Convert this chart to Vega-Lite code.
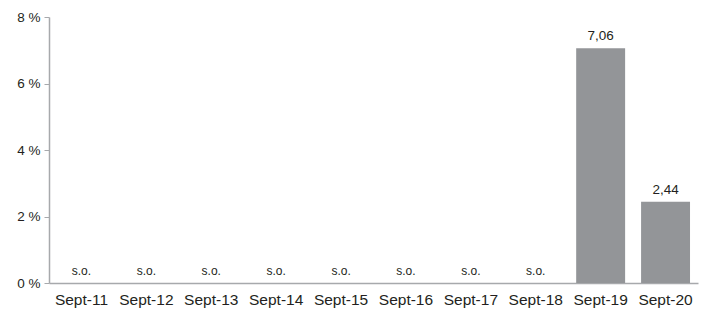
{
  "$schema": "https://vega.github.io/schema/vega-lite/v6.json",
  "autosize": {"type": "none"},
  "width": 649,
  "height": 266,
  "padding": {"left": 49, "top": 17, "right": 19, "bottom": 32},
  "background": "white",
  "config": {
    "view": {"stroke": null},
    "font": "Liberation Sans"
  },
  "data": {
    "values": [
      {"period": "Sept-11", "value": 0, "label": "s.o."},
      {"period": "Sept-12", "value": 0, "label": "s.o."},
      {"period": "Sept-13", "value": 0, "label": "s.o."},
      {"period": "Sept-14", "value": 0, "label": "s.o."},
      {"period": "Sept-15", "value": 0, "label": "s.o."},
      {"period": "Sept-16", "value": 0, "label": "s.o."},
      {"period": "Sept-17", "value": 0, "label": "s.o."},
      {"period": "Sept-18", "value": 0, "label": "s.o."},
      {"period": "Sept-19", "value": 7.06, "label": "7,06"},
      {"period": "Sept-20", "value": 2.44, "label": "2,44"}
    ]
  },
  "encoding": {
    "x": {
      "field": "period",
      "type": "nominal",
      "sort": null,
      "scale": {"paddingInner": 0.246, "paddingOuter": 0.123},
      "axis": {
        "title": null,
        "labelAngle": 0,
        "ticks": false,
        "labelPadding": 9,
        "labelFontSize": 15.5,
        "labelColor": "#231f20",
        "domainColor": "#a7a9ac",
        "domainWidth": 1.5
      }
    },
    "y": {
      "field": "value",
      "type": "quantitative",
      "scale": {"domain": [0, 8], "nice": false},
      "axis": {
        "title": null,
        "values": [0, 2, 4, 6, 8],
        "grid": false,
        "labelExpr": "datum.value + ' %'",
        "labelFontSize": 13.5,
        "labelColor": "#231f20",
        "domainColor": "#a7a9ac",
        "domainWidth": 1.5,
        "tickColor": "#a7a9ac",
        "tickSize": 5,
        "labelPadding": 4
      }
    }
  },
  "layer": [
    {
      "mark": {"type": "bar", "color": "#939598"}
    },
    {
      "mark": {"type": "text", "baseline": "bottom", "dy": -5, "fontSize": 13, "color": "#231f20"},
      "encoding": {
        "text": {"field": "label"},
        "size": {"condition": {"test": "datum.value == 0", "value": 12}, "value": 13.5}
      }
    }
  ]
}
